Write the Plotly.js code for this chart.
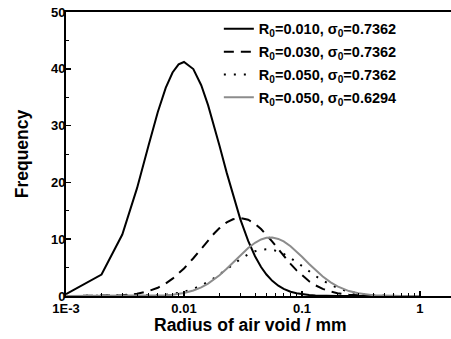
<!DOCTYPE html>
<html>
<head>
<meta charset="utf-8">
<script src="https://cdn.plot.ly/plotly-3.0.1.min.js"></script>
<style>
html,body{margin:0;padding:0;background:#fff;}
#chart{width:451px;height:339px;}
</style>
</head>
<body>
<div id="chart"></div>
<script>
// Radius of air void (mm)
const radius = [0.001,0.002,0.003,0.004,0.005,0.006,0.007,0.008,0.009,0.010,
  0.012,0.014,0.016,0.018,0.020,0.023,0.026,0.030,0.035,0.040,
  0.045,0.050,0.056,0.063,0.070,0.080,0.090,0.100,0.115,0.130,
  0.150,0.175,0.200,0.250,0.300,0.400,0.500,0.700,1.000];

// R0=0.010, sigma0=0.7362
const freqR010 = [0.31,3.78,10.82,18.99,26.45,32.39,36.63,39.35,40.78,41.2,
  39.96,37.11,33.60,29.96,26.45,21.72,17.74,13.53,9.69,7.00,
  5.11,3.78,2.67,1.81,1.25,0.76,0.48,0.31,0.17,0.10,
  0.05,0.02,0.01,0,0,0,0,0,0];
// R0=0.030, sigma0=0.7362
const freqR030 = [0,0.02,0.12,0.38,0.85,1.45,2.2,3.05,3.95,4.85,
  6.65,8.35,9.8,11.0,11.95,12.95,13.5,13.73,13.43,12.72,
  11.80,10.79,9.59,8.26,7.08,5.65,4.51,3.61,2.59,1.89,
  1.26,0.78,0.50,0.22,0.10,0.03,0.01,0,0];
// R0=0.050, sigma0=0.7362
const freqR050a = [0,0,0.01,0.02,0.06,0.13,0.23,0.37,0.55,0.76,
  1.26,1.85,2.49,3.15,3.80,4.72,5.55,6.48,7.33,7.87,
  8.16,8.24,8.14,7.84,7.42,6.72,5.99,5.29,4.34,3.55,
  2.71,1.94,1.40,0.76,0.43,0.15,0.06,0.01,0];
// R0=0.050, sigma0=0.6294
const freqR050b = [0,0,0,0.01,0.03,0.06,0.13,0.22,0.35,0.52,
  0.96,1.52,2.18,2.90,3.66,4.79,5.88,7.17,8.46,9.37,
  9.95,10.24,10.29,10.05,9.60,8.76,7.83,6.91,5.65,4.58,
  3.44,2.41,1.70,0.87,0.47,0.15,0.06,0.01,0];

const seriesNames = [
  'R<sub>0</sub>=0.010, σ<sub>0</sub>=0.7362',
  'R<sub>0</sub>=0.030, σ<sub>0</sub>=0.7362',
  'R<sub>0</sub>=0.050, σ<sub>0</sub>=0.7362',
  'R<sub>0</sub>=0.050, σ<sub>0</sub>=0.6294'
];
const xTickVals = [0.001,0.01,0.1,1];
const xTickText = ['1E-3','0.01','0.1','1'];
const yTickVals = [0,10,20,30,40,50];
const xTitle = 'Radius of air void / mm';
const yTitle = 'Frequency';

const FONT = 'Liberation Sans, Arial, Helvetica, sans-serif';

const traces = [
  {x: radius, y: freqR010, name: seriesNames[0], legendgroup:'a', mode:'lines',
   line:{color:'#000000', width:2}},
  {x: radius, y: freqR030, name: seriesNames[1], legendgroup:'b', mode:'lines',
   line:{color:'#000000', width:2, dash:'10px,7px'}},
  {x: radius, y: freqR050a, name: seriesNames[2], legendgroup:'c', mode:'lines',
   line:{color:'#000000', width:2, dash:'2px,8px'}},
  {x: radius, y: freqR050b, name: seriesNames[3], legendgroup:'d', mode:'lines',
   line:{color:'#8c8c8c', width:2}}
];

const layout = {
  width: 451, height: 339,
  margin: {l:66, r:0, t:12, b:43, pad:0},
  paper_bgcolor:'#ffffff', plot_bgcolor:'#ffffff',
  font: {family: FONT, color:'#000', size:13, weight:'bold'},
  showlegend: true,
  legend: {x:0.397, y:0.997, xanchor:'left', yanchor:'top',
    bgcolor:'rgba(0,0,0,0)', borderwidth:0,
    font:{family:FONT, size:14.5, weight:'bold', color:'#000'},
    tracegroupgap: 1, traceorder:'grouped'},
  xaxis: {
    type:'log', range:[-3, 0.263], autorange:false,
    showgrid:false, zeroline:false,
    showline:true, linecolor:'#000', linewidth:2, mirror:true,
    ticks:'inside', ticklen:5, tickwidth:1.5, tickcolor:'#000',
    ticklabelstandoff:-1,
    tickvals:xTickVals, ticktext:xTickText,
    tickfont:{family:FONT, size:13, weight:'bold', color:'#000'},
    minor:{ticks:'inside', ticklen:3, tickwidth:1, tickcolor:'#000', dtick:'D1', showgrid:false}
  },
  yaxis: {
    range:[0,50], autorange:false,
    showgrid:false, zeroline:false,
    showline:true, linecolor:'#000', linewidth:2, mirror:false,
    ticks:'inside', ticklen:5, tickwidth:1.5, tickcolor:'#000',
    ticklabelstandoff:-4,
    tickvals:yTickVals,
    tickfont:{family:FONT, size:13, weight:'bold', color:'#000'},
    minor:{ticks:'inside', ticklen:3, tickwidth:1, tickcolor:'#000', dtick:5, showgrid:false},
    title:{text:yTitle, standoff:18,
      font:{family:FONT, size:17.5, weight:'bold', color:'#000'}}
  },
  annotations: [
    {text:xTitle, xref:'paper', yref:'paper', x:0.4805, y:-0.1021,
     xanchor:'center', yanchor:'middle', showarrow:false,
     font:{family:FONT, size:17.5, weight:'bold', color:'#000'}}
  ]
};

Plotly.newPlot('chart', traces, layout, {staticPlot:true, displayModeBar:false});
</script>
</body>
</html>
